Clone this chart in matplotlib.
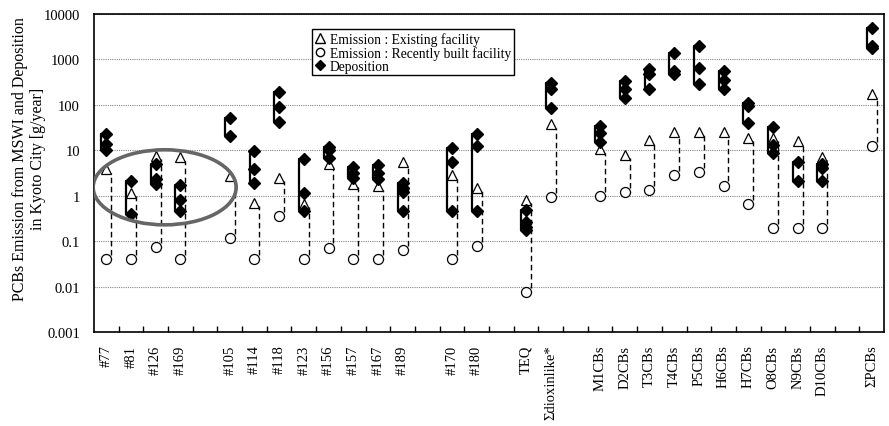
import matplotlib
matplotlib.use("Agg")
import matplotlib.pyplot as plt
from matplotlib.patches import Ellipse
from matplotlib.lines import Line2D
import numpy as np

plt.rcParams['font.family'] = ['Liberation Serif', 'DejaVu Serif']

# categories ('' = empty slot used as a gap)
labels = ['#77', '#81', '#126', '#169', '',
          '#105', '#114', '#118', '#123', '#156', '#157', '#167', '#189', '',
          '#170', '#180', '',
          'TEQ', '\u03a3dioxinlike*', '',
          'M1CBs', 'D2CBs', 'T3CBs', 'T4CBs', 'P5CBs', 'H6CBs', 'H7CBs',
          'O8CBs', 'N9CBs', 'D10CBs', '',
          '\u03a3PCBs']

# emission, existing facility (triangles)
existing = [3.8, 1.15, 7.5, 7.0, None,
            2.7, 0.7, 2.5, 0.67, 5.1, 1.85, 1.6, 5.6, None,
            2.8, 1.5, None,
            0.8, 37, None,
            10.5, 7.8, 17, 25, 25, 25, 18.5, 18.5, 16, 7.2, None,
            170]

# emission, recently built facility (circles)
recent = [0.04, 0.04, 0.075, 0.04, None,
          0.12, 0.04, 0.36, 0.04, 0.07, 0.04, 0.04, 0.065, None,
          0.04, 0.08, None,
          0.0075, 0.95, None,
          1.0, 1.2, 1.35, 2.8, 3.4, 1.65, 0.65, 0.19, 0.19, 0.19, None,
          12.5]

# deposition (diamonds)
deposition = [[23, 14, 10], [2.1, 0.4], [5.0, 2.3, 1.8], [1.7, 0.8, 0.45], None,
              [52, 21], [9.5, 3.8, 1.9], [190, 89, 42], [6.3, 1.15, 0.45],
              [12, 10, 6.6], [4.3, 3.1, 2.5], [4.8, 3.1, 2.3], [1.9, 1.45, 1.2, 0.45], None,
              [11, 5.4, 0.45], [23, 12.5, 0.45], None,
              [0.48, 0.26, 0.21, 0.18], [300, 220, 87], None,
              [35, 24, 15], [335, 218, 144], [600, 470, 227], [1400, 560, 480],
              [1950, 650, 285], [570, 350, 220], [112, 95, 40], [33, 13, 8.8],
              [5.4, 2.15], [5.0, 4.0, 2.1], None,
              [4900, 2000, 1800]]

fig = plt.figure(figsize=(8.89, 4.27), dpi=100)
ax = fig.add_axes([0.1057, 0.2201, 0.8887, 0.7448])

off = 0.2
for i, lab in enumerate(labels):
    if lab == '':
        continue
    dep = deposition[i]
    lo, hi = min(dep), max(dep)
    # solid bracket for deposition range
    ax.plot([i, i - off, i - off, i], [hi, hi, lo, lo], color='black', lw=1.6, zorder=2)
    # dashed line between the two emission values
    ax.plot([i, i + off, i + off], [recent[i], recent[i], existing[i] * 0.85],
            color='black', lw=1.0, ls=(0, (4, 2.5)), zorder=2)
    ax.plot([i] * len(dep), dep, ls='none', marker='D', ms=5.8,
            mfc='black', mec='black', zorder=4)
    ax.plot(i, existing[i], ls='none', marker='^', ms=7.5, mfc='white',
            mec='black', mew=0.9, zorder=3)
    ax.plot(i, recent[i], ls='none', marker='o', ms=7.2, mfc='white',
            mec='black', mew=0.9, zorder=3)

ax.set_yscale('log')
ax.set_ylim(0.001, 10000)
ax.set_xlim(-0.5, len(labels) - 0.5)
ax.set_yticks([0.001, 0.01, 0.1, 1, 10, 100, 1000, 10000])
ax.set_yticklabels(['0.001', '0.01', '0.1', '1', '10', '100', '1000', '10000'], fontsize=10.5)
ax.yaxis.set_minor_locator(matplotlib.ticker.NullLocator())
ax.tick_params(axis='y', direction='in', length=0, pad=10)

ax.set_xticks(np.arange(len(labels)))
ax.set_xticklabels(labels, rotation=90, fontsize=10.5)
ax.set_xticks(np.arange(len(labels) - 1) + 0.5, minor=True)
ax.tick_params(axis='x', which='major', length=0, pad=9)
ax.tick_params(axis='x', which='minor', direction='in', length=4, width=1)

ax.yaxis.grid(True, which='major', color='#888888', ls=(0, (1, 1)), lw=0.8)
ax.set_axisbelow(True)
for s in ax.spines.values():
    s.set_linewidth(1.2)

ax.set_ylabel('PCBs Emission from MSWI and Deposition\nin Kyoto City [g/year]',
              fontsize=11.5, linespacing=1.15)
ax.yaxis.set_label_coords(-0.061, 0.547)

# highlight ellipse around the first group
ell = Ellipse((0.0895, 0.455), 0.181, 0.236, transform=ax.transAxes,
              fill=False, edgecolor='#666666', lw=2.6, zorder=5)
ax.add_patch(ell)

handles = [Line2D([], [], ls='none', marker='^', ms=7, mfc='white', mec='black'),
           Line2D([], [], ls='none', marker='o', ms=6, mfc='white', mec='black'),
           Line2D([], [], ls='none', marker='D', ms=5.5, mfc='black', mec='black')]
leg = ax.legend(handles, ['Emission : Existing facility',
                          'Emission : Recently built facility', 'Deposition'],
                loc='upper left', bbox_to_anchor=(0.276, 0.952), fontsize=9.8,
                handlelength=0.8, handletextpad=0.3, borderpad=0.2,
                labelspacing=0.0, fancybox=False, framealpha=1,
                edgecolor='black', borderaxespad=0)
leg.get_frame().set_linewidth(1.0)

fig.savefig('out.png', dpi=100)
